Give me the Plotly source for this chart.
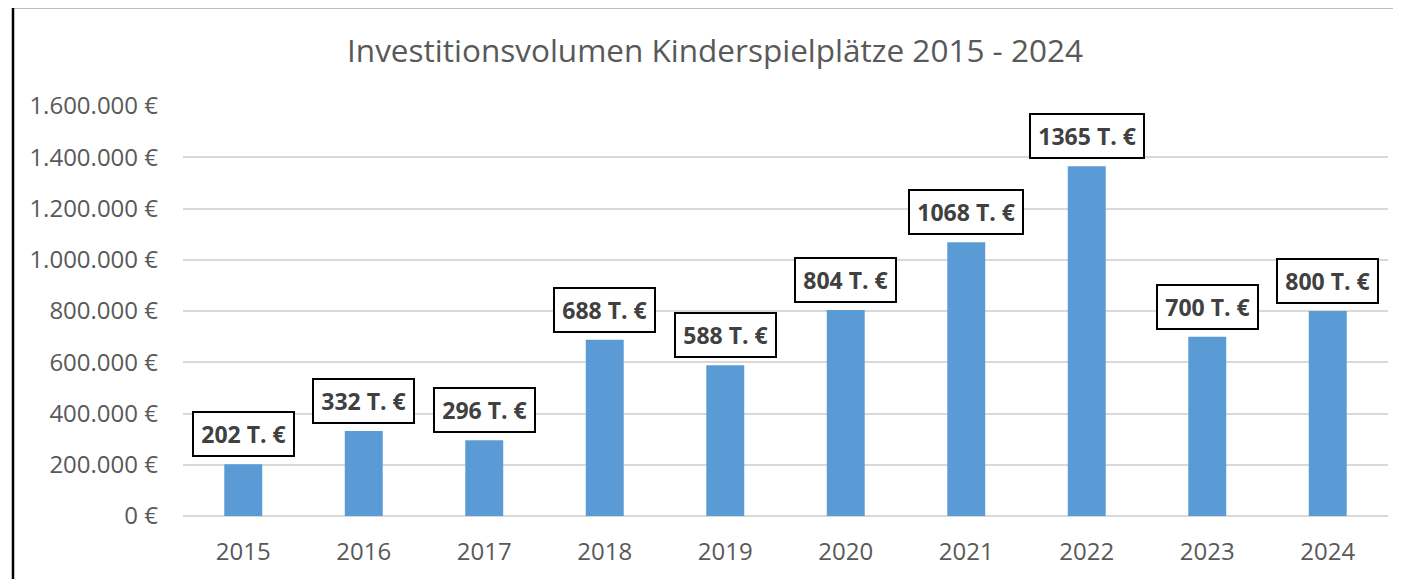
import plotly.graph_objects as go

years = ["2015", "2016", "2017", "2018", "2019", "2020", "2021", "2022", "2023", "2024"]
values = [202000, 332000, 296000, 688000, 588000, 804000, 1068000, 1365000, 700000, 800000]
labels = ["202 T. €", "332 T. €", "296 T. €", "688 T. €", "588 T. €", "804 T. €",
          "1068 T. €", "1365 T. €", "700 T. €", "800 T. €"]
y_tickvals = [0, 200000, 400000, 600000, 800000, 1000000, 1200000, 1400000, 1600000]
y_ticktext = ["0 €", "200.000 €", "400.000 €", "600.000 €", "800.000 €", "1.000.000 €",
              "1.200.000 €", "1.400.000 €", "1.600.000 €"]

FONT = "Open Sans"
OFF = 8  # page body margin
W, H = 1401 - OFF, 579 - OFF
ml, mr, mt, mb = 183 - OFF, 13, 106 - OFF, 63
pw, ph = W - ml - mr, H - mt - mb

fig = go.Figure(go.Bar(x=years, y=values, marker=dict(color="#5B9BD5", line=dict(width=0)),
                       hoverinfo="skip"))

for i, (v, t) in enumerate(zip(values, labels)):
    fig.add_annotation(x=i, y=v, text="<b>\u200a" + t + "\u200a</b>", showarrow=False,
                       xref="x", yref="y", yanchor="bottom", yshift=7,
                       font=dict(family=FONT, size=23, color="#404040"),
                       bgcolor="white", bordercolor="black", borderwidth=2,
                       borderpad=5)

# outer chart border (left and top)
x_left = (13 - OFF - ml) / pw
y_top = (H - mb - (7 - OFF)) / ph
y_bot = -mb / ph - 0.05
fig.add_shape(type="line", xref="paper", yref="paper", x0=x_left, x1=x_left,
              y0=y_bot, y1=y_top, line=dict(color="black", width=2.5))
fig.add_shape(type="line", xref="paper", yref="paper", x0=x_left, x1=(W - ml) / pw + 0.02,
              y0=y_top, y1=y_top, line=dict(color="black", width=2.5))

fig.update_layout(
    width=W, height=H,
    margin=dict(l=ml, r=mr, t=mt, b=mb, pad=0),
    paper_bgcolor="white", plot_bgcolor="white",
    bargap=0.685,
    showlegend=False,
    title=dict(text="Investitionsvolumen Kinderspielplätze 2015 - 2024",
               x=(715 - OFF) / W, xanchor="center", y=1 - (51 - OFF) / H, yanchor="middle",
               font=dict(family=FONT, size=31.5, color="#595959")),
    xaxis=dict(type="category", showgrid=False, showline=False, zeroline=False,
               ticks="", tickfont=dict(family=FONT, size=24, color="#595959"),
               ticklabelstandoff=19, range=[-0.5, 9.5]),
    yaxis=dict(range=[0, 1600000], tickvals=y_tickvals, ticktext=y_ticktext,
               showgrid=True, gridcolor="#D9D9D9", gridwidth=1.5,
               zeroline=True, zerolinecolor="#D9D9D9", zerolinewidth=1.5,
               showline=False, ticks="",
               tickfont=dict(family=FONT, size=24, color="#595959"),
               ticklabelstandoff=24),
)

fig.write_html("out.html")
